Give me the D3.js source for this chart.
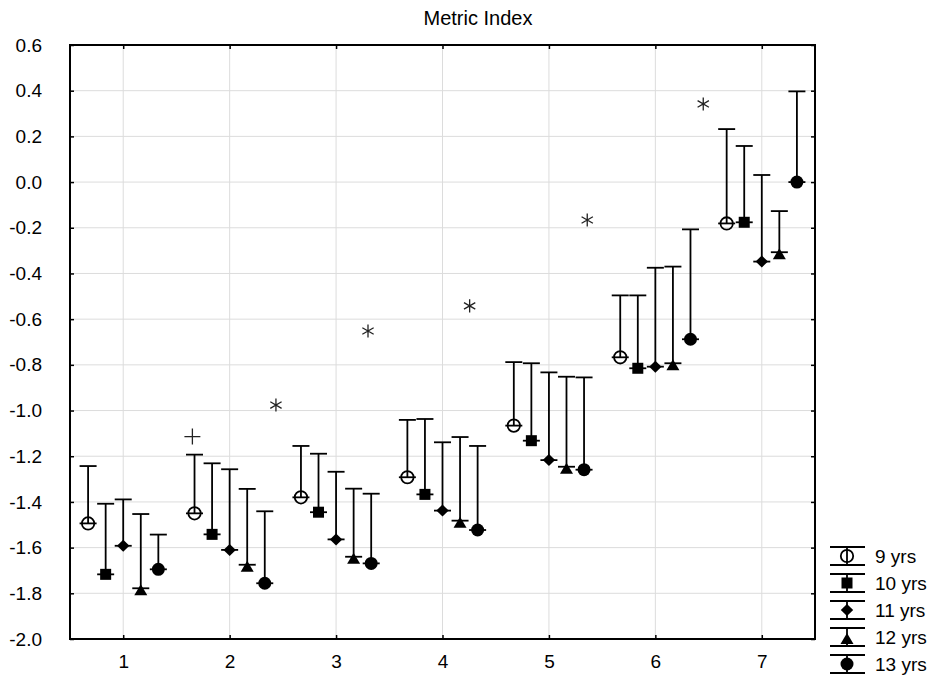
<!DOCTYPE html>
<html lang="en">
<head>
<meta charset="UTF-8">
<title>Metric Index</title>
<script src="https://cdn.jsdelivr.net/npm/d3@7"></script>
<style>
    body { margin: 0; background: #fff; }
    svg text { font-family: "Liberation Sans", Arial, sans-serif; fill: #000; }
</style>
</head>
<body>
<div id="chart"></div>
<script>
// categories on the x axis
var categories = [1, 2, 3, 4, 5, 6, 7];
var seriesNames = ["9 yrs", "10 yrs", "11 yrs", "12 yrs", "13 yrs"];

// means (marker) per series, one value per category
var mean9  = [-1.494, -1.450, -1.380, -1.292, -1.066, -0.767, -0.181];
var mean10 = [-1.717, -1.542, -1.445, -1.367, -1.132, -0.815, -0.176];
var mean11 = [-1.592, -1.610, -1.564, -1.438, -1.217, -0.808, -0.348];
var mean12 = [-1.778, -1.675, -1.640, -1.482, -1.246, -0.793, -0.307];
var mean13 = [-1.695, -1.756, -1.669, -1.523, -1.259, -0.688, 0.000];

// upper end of the whisker
var upper9  = [-1.243, -1.193, -1.155, -1.041, -0.788, -0.496, 0.232];
var upper10 = [-1.408, -1.231, -1.189, -1.037, -0.793, -0.496, 0.158];
var upper11 = [-1.389, -1.257, -1.268, -1.139, -0.833, -0.375, 0.031];
var upper12 = [-1.453, -1.343, -1.342, -1.116, -0.852, -0.370, -0.127];
var upper13 = [-1.543, -1.441, -1.364, -1.155, -0.855, -0.207, 0.397];

// offset of each series inside a category (x units)
var offsets = [-0.33, -0.165, 0, 0.165, 0.33];

// significance marks
var markX = [1.65, 2.435, 3.30, 4.255, 5.36, 6.45];
var markY = [-1.114, -0.976, -0.652, -0.542, -0.166, 0.342];
var markType = ["plus", "star", "star", "star", "star", "star"];

var yTicks = [-2.0, -1.8, -1.6, -1.4, -1.2, -1.0, -0.8, -0.6, -0.4, -0.2, 0.0, 0.2, 0.4, 0.6];
var title = "Metric Index";

var means = [mean9, mean10, mean11, mean12, mean13];
var uppers = [upper9, upper10, upper11, upper12, upper13];
var shapes = ["openCircle", "square", "diamond", "triangle", "circle"];

var width = 935, height = 677;
var margin = {left: 70, top: 45, right: 120, bottom: 38};

var svg = d3.select("#chart").append("svg")
    .attr("width", width)
    .attr("height", height);

var x = d3.scaleLinear().domain([0.5, 7.5]).range([margin.left, width - margin.right]);
var y = d3.scaleLinear().domain([-2.0, 0.6]).range([height - margin.bottom, margin.top]);

var fontSize = 19;

// grid
svg.append("g").selectAll("line.hg").data(yTicks).enter().append("line")
    .attr("x1", x(0.5)).attr("x2", x(7.5))
    .attr("y1", function(d){ return y(d); }).attr("y2", function(d){ return y(d); })
    .style("stroke", "#dcdcdc").style("stroke-width", 1);
svg.append("g").selectAll("line.vg").data(categories).enter().append("line")
    .attr("x1", function(d){ return x(d); }).attr("x2", function(d){ return x(d); })
    .attr("y1", y(-2.0)).attr("y2", y(0.6))
    .style("stroke", "#dcdcdc").style("stroke-width", 1);

// axes (ticks point inward)
function styleAxis(g) {
    g.select(".domain").remove();
    g.selectAll(".tick line").style("stroke", "#000").style("stroke-width", 1.5);
    g.selectAll("text").style("font-size", fontSize + "px").style("font-family", "Liberation Sans, Arial, sans-serif");
}
svg.append("g").attr("transform", "translate(" + x(0.5) + ",0)")
    .call(d3.axisLeft(y).tickValues(yTicks).tickSizeInner(-4).tickSizeOuter(0).tickPadding(28)
        .tickFormat(function(d){ return (+d).toFixed(1); }))
    .call(styleAxis);
svg.append("g").attr("transform", "translate(" + x(7.5) + ",0)")
    .call(d3.axisRight(y).tickValues(yTicks).tickSizeInner(-4).tickSizeOuter(0).tickFormat(""))
    .call(styleAxis);
svg.append("g").attr("transform", "translate(0," + y(-2.0) + ")")
    .call(d3.axisBottom(x).tickValues(categories).tickSizeInner(-4).tickSizeOuter(0).tickPadding(16)
        .tickFormat(d3.format("d")))
    .call(styleAxis);
svg.append("g").attr("transform", "translate(0," + y(0.6) + ")")
    .call(d3.axisTop(x).tickValues(categories).tickSizeInner(-4).tickSizeOuter(0).tickFormat(""))
    .call(styleAxis);

// frame
svg.append("rect")
    .attr("x", x(0.5)).attr("y", y(0.6))
    .attr("width", x(7.5) - x(0.5)).attr("height", y(-2.0) - y(0.6))
    .style("fill", "none").style("stroke", "#000").style("stroke-width", 2);

// title
svg.append("text").attr("x", 478).attr("y", 25)
    .attr("text-anchor", "middle").style("font-size", "20px").text(title);

var capHalf = 8.5;

function drawMarker(g, shape) {
    if (shape === "openCircle") {
        g.append("circle").attr("r", 6.2).style("fill", "none").style("stroke", "#000").style("stroke-width", 1.8);
    } else if (shape === "circle") {
        g.append("circle").attr("r", 6.5).style("fill", "#000");
    } else if (shape === "square") {
        g.append("rect").attr("x", -5.5).attr("y", -5.5).attr("width", 11).attr("height", 11).style("fill", "#000");
    } else if (shape === "diamond") {
        g.append("path").attr("d", "M0,-6L6.2,0L0,6L-6.2,0Z").style("fill", "#000");
    } else if (shape === "triangle") {
        g.append("path").attr("d", "M0,-4L6.5,7L-6.5,7Z").style("fill", "#000");
    }
}

// series
seriesNames.forEach(function(name, si) {
    var rows = categories.map(function(c, i) {
        return {x: c + offsets[si], mean: means[si][i], upper: uppers[si][i]};
    });
    var g = svg.append("g").attr("class", "series");
    var bars = g.selectAll("g.bar").data(rows).enter().append("g").attr("class", "bar");
    bars.append("line")
        .attr("x1", function(d){ return x(d.x); }).attr("x2", function(d){ return x(d.x); })
        .attr("y1", function(d){ return y(d.mean); }).attr("y2", function(d){ return y(d.upper); })
        .style("stroke", "#000").style("stroke-width", 1.8);
    bars.append("line")
        .attr("x1", function(d){ return x(d.x) - capHalf; }).attr("x2", function(d){ return x(d.x) + capHalf; })
        .attr("y1", function(d){ return y(d.upper); }).attr("y2", function(d){ return y(d.upper); })
        .style("stroke", "#000").style("stroke-width", 1.8);
    bars.append("line")
        .attr("x1", function(d){ return x(d.x) - capHalf; }).attr("x2", function(d){ return x(d.x) + capHalf; })
        .attr("y1", function(d){ return y(d.mean); }).attr("y2", function(d){ return y(d.mean); })
        .style("stroke", "#000").style("stroke-width", 1.8);
    bars.each(function(d) {
        var m = d3.select(this).append("g")
            .attr("transform", "translate(" + x(d.x) + "," + y(d.mean) + ")");
        drawMarker(m, shapes[si]);
    });
});

// significance marks
var marks = markX.map(function(v, i){ return {x: v, y: markY[i], t: markType[i]}; });
svg.append("g").selectAll("path.mark").data(marks).enter().append("path")
    .attr("transform", function(d){ return "translate(" + x(d.x) + "," + y(d.y) + ")"; })
    .attr("d", function(d){
        return d.t === "plus" ? d3.symbol(d3.symbolPlus, 85)() : d3.symbol(d3.symbolAsterisk, 120)();
    })
    .style("fill", "none").style("stroke", "#222").style("stroke-width", 1.3);

// legend
var legX = 847, legY0 = 556, legStep = 27;
var leg = svg.append("g").selectAll("g.leg").data(seriesNames).enter().append("g")
    .attr("transform", function(d, i){ return "translate(" + legX + "," + (legY0 + i * legStep) + ")"; });
leg.append("line").attr("x1", -17).attr("x2", 18).attr("y1", -9).attr("y2", -9)
    .style("stroke", "#000").style("stroke-width", 1.8);
leg.append("line").attr("x1", -17).attr("x2", 18).attr("y1", 9).attr("y2", 9)
    .style("stroke", "#000").style("stroke-width", 1.8);
leg.append("line").attr("x1", 0).attr("x2", 0).attr("y1", -9).attr("y2", 9)
    .style("stroke", "#000").style("stroke-width", 1.8);
leg.each(function(d, i){ drawMarker(d3.select(this), shapes[i]); });
leg.append("text").attr("x", 28).attr("y", 7)
    .style("font-size", fontSize + "px").text(function(d){ return d; });
</script>
</body>
</html>
